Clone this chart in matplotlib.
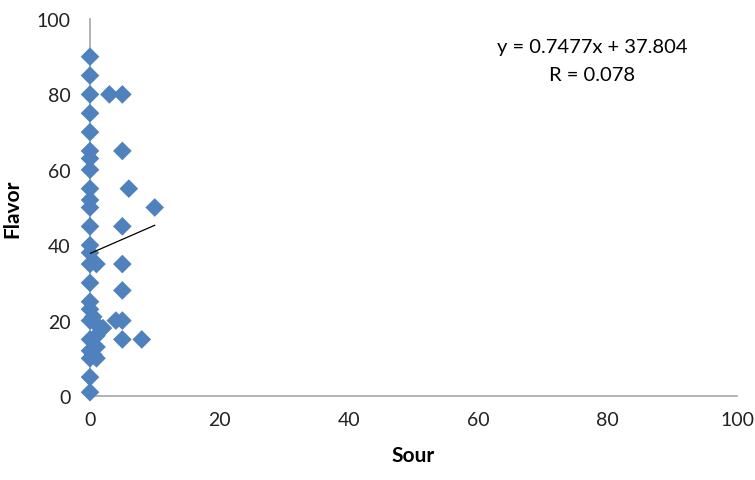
import matplotlib
matplotlib.use("Agg")
import matplotlib.pyplot as plt
import numpy as np

# Data
sour = [0, 0, 0, 0, 0, 0, 0, 0, 0, 0, 0, 0, 0, 0, 0, 0, 0, 0, 0, 0, 0, 0, 0, 0,
        3, 5, 5, 6, 10, 5, 1, 5, 5, 0.5, 1, 2, 4, 5, 1, 5, 8, 1, 1, 0.5]
flavor = [90, 85, 80, 75, 70, 65, 63, 60, 55, 52, 50, 45, 40, 38, 35, 30, 25, 23, 20, 15, 12, 10, 5, 1,
          80, 80, 65, 55, 50, 45, 35, 35, 28, 21, 19, 18, 20, 20, 16, 15, 15, 13, 10, 11]
slope = 0.7477
intercept = 37.804
r_value = 0.078
x_ticks = [0, 20, 40, 60, 80, 100]
y_ticks = [0, 20, 40, 60, 80, 100]

plt.rcParams['font.family'] = ['Lato', 'DejaVu Sans']

fig = plt.figure(figsize=(7.55, 4.81), dpi=100)
ax = fig.add_axes([90/755, 1-397/481, (737-90)/755, (397-20)/481])

ax.scatter(sour, flavor, marker='D', s=9.5**2, color='#4F81BD', edgecolors='none',
           zorder=3, clip_on=False)

xs = np.array([min(sour), max(sour)])
ax.plot(xs, slope*xs + intercept, color='black', lw=0.9, zorder=4)

ax.set_xlim(0, 100)
ax.set_ylim(0, 100)
ax.set_xticks(x_ticks)
ax.set_yticks(y_ticks)
ax.tick_params(axis='both', length=0, labelsize=14, colors='#222222')
ax.tick_params(axis='y', pad=14)
ax.tick_params(axis='x', pad=11)
for s in ['top', 'right']:
    ax.spines[s].set_visible(False)
for s in ['left', 'bottom']:
    ax.spines[s].set_color('#A6A6A6')
    ax.spines[s].set_linewidth(1.2)

ax.set_xlabel('Sour', fontsize=15, fontweight='bold', labelpad=12)
ax.set_ylabel('Flavor', fontsize=15, fontweight='bold', labelpad=10)

ax.text(77.6, 92.6, f'y = {slope}x + {intercept}', ha='center', va='center', fontsize=14.5)
ax.text(77.6, 85.4, f'R = {r_value}', ha='center', va='center', fontsize=14.5)

fig.savefig('out.png', dpi=100)
